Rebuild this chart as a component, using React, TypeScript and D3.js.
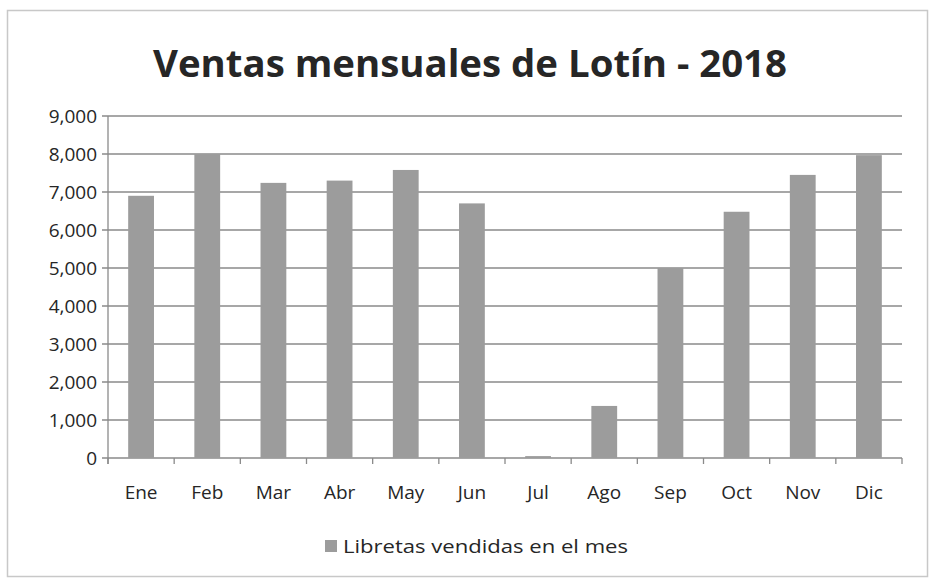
import React from 'react';
import * as d3 from 'd3';

const months = ["Ene", "Feb", "Mar", "Abr", "May", "Jun", "Jul", "Ago", "Sep", "Oct", "Nov", "Dic"];
const sales = [6900, 8000, 7240, 7300, 7580, 6700, 50, 1370, 5000, 6480, 7450, 7970];
const yTicks = [0, 1000, 2000, 3000, 4000, 5000, 6000, 7000, 8000, 9000];
const seriesName = "Libretas vendidas en el mes";
const title = "Ventas mensuales de Lotín - 2018";

const W = 933;
const H = 579;
const margin = { top: 116, right: 31, bottom: 121, left: 108 };

const font = "'Open Sans', 'Liberation Sans', sans-serif";

export default function App() {
  const x = d3.scaleBand<string>()
    .domain(months)
    .range([margin.left, W - margin.right])
    .paddingInner(0.61)
    .paddingOuter(0.305);

  const y = d3.scaleLinear()
    .domain([0, 9000])
    .range([H - margin.bottom, margin.top]);

  const step = x.step();
  const bounds = d3.range(months.length + 1).map(i => margin.left + i * step);
  const fmt = d3.format(",");

  return (
    <svg width={W} height={H} style={{ position: 'absolute', left: 0, top: 0 }}>
      <rect x={0} y={0} width={W} height={H} fill="#fff" />
      <rect x={7.5} y={10.5} width={920} height={566} fill="none" stroke="#c8c8c8" strokeWidth={1.5} />

      <text x={470} y={77} textAnchor="middle" fontFamily={font} fontWeight={700} fontSize={38}
        fill="#262626" textLength={634} lengthAdjust="spacingAndGlyphs">{title}</text>

      {/* gridlines */}
      {yTicks.map(t => (
        <line key={t} x1={margin.left - 6} x2={W - margin.right} y1={y(t)} y2={y(t)}
          stroke="#8a8a8a" strokeWidth={1.3} />
      ))}

      {/* y axis */}
      <line x1={margin.left} x2={margin.left} y1={y(9000)} y2={y(0) + 6} stroke="#8a8a8a" strokeWidth={1.3} />
      {yTicks.map(t => (
        <text key={t} x={97} y={y(t)} dy="0.36em" textAnchor="end" fontFamily={font}
          fontSize={19} fill="#262626">{fmt(t)}</text>
      ))}

      {/* x ticks */}
      {bounds.map((b, i) => (
        <line key={i} x1={b} x2={b} y1={y(0)} y2={y(0) + 6} stroke="#8a8a8a" strokeWidth={1.3} />
      ))}

      {/* bars */}
      {months.map((m, i) => (
        <rect key={m} x={x(m)} y={y(sales[i])} width={x.bandwidth()} height={y(0) - y(sales[i])}
          fill="#9c9c9c" />
      ))}

      {/* month labels */}
      {months.map(m => (
        <text key={m} x={(x(m) ?? 0) + x.bandwidth() / 2} y={499} textAnchor="middle"
          fontFamily={font} fontSize={19} fill="#262626">{m}</text>
      ))}

      {/* legend */}
      <rect x={325} y={540} width={12} height={12} fill="#9c9c9c" />
      <text x={343} y={553} fontFamily={font} fontSize={19} fill="#262626"
        textLength={285} lengthAdjust="spacingAndGlyphs">{seriesName}</text>
    </svg>
  );
}
